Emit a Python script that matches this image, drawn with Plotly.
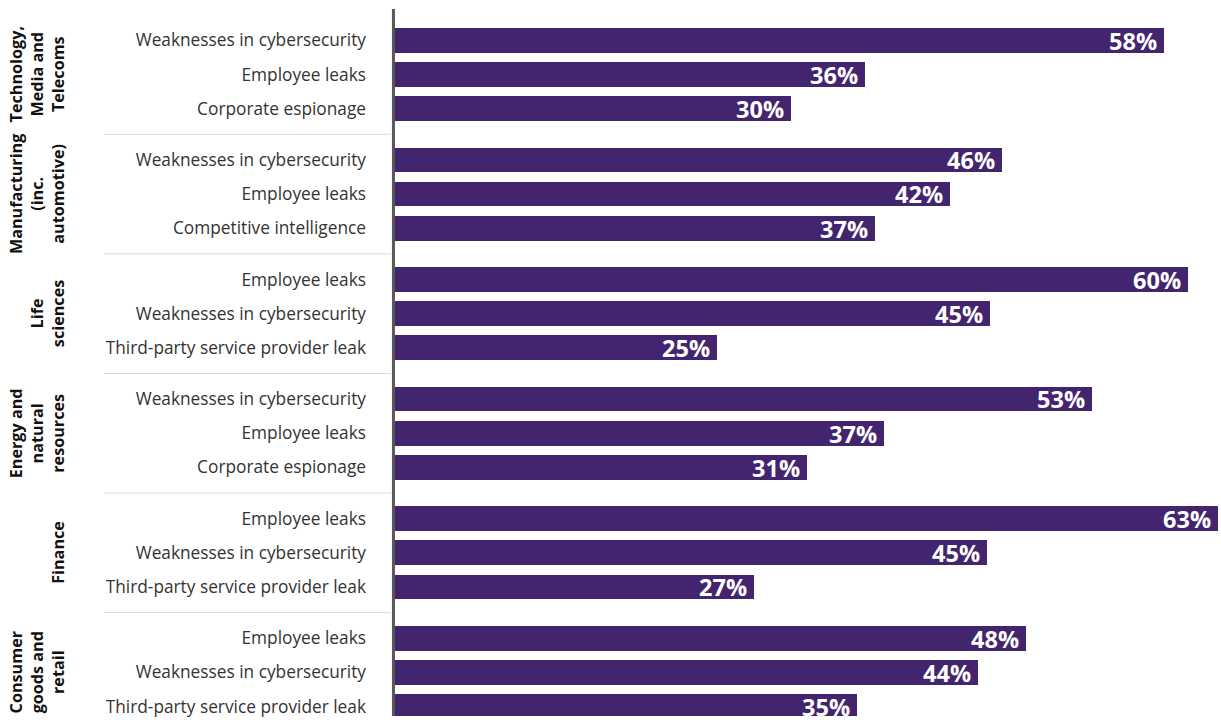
import plotly.graph_objects as go

# ---- data ----
groups = [
    "Technology,<br>Media and<br>Telecoms",
    "Manufacturing<br>(inc.<br>automotive)",
    "Life<br>sciences",
    "Energy and<br>natural<br>resources",
    "Finance",
    "Consumer<br>goods and<br>retail",
]
categories = [
    ["Weaknesses in cybersecurity", "Employee leaks", "Corporate espionage"],
    ["Weaknesses in cybersecurity", "Employee leaks", "Competitive intelligence"],
    ["Employee leaks", "Weaknesses in cybersecurity", "Third-party service provider leak"],
    ["Weaknesses in cybersecurity", "Employee leaks", "Corporate espionage"],
    ["Employee leaks", "Weaknesses in cybersecurity", "Third-party service provider leak"],
    ["Employee leaks", "Weaknesses in cybersecurity", "Third-party service provider leak"],
]
# bar lengths (percent)
values = [
    [58.45, 35.8, 30.2],
    [46.2, 42.3, 36.6],
    [60.3, 45.3, 24.6],
    [53.0, 37.3, 31.4],
    [62.6, 45.1, 27.4],
    [48.0, 44.4, 35.2],
]
# printed labels
labels = [
    [58, 36, 30],
    [46, 42, 37],
    [60, 45, 25],
    [53, 37, 31],
    [63, 45, 27],
    [48, 44, 35],
]

BAR = "#43246F"
FONT = "Open Sans"

ypos, xs, ticks, texts = [], [], [], []
for g in range(len(groups)):
    for i in range(3):
        ypos.append(3.5 * g + i)
        xs.append(values[g][i])
        ticks.append(categories[g][i])
        texts.append(f"{labels[g][i]}%\u2009")

fig = go.Figure()
fig.add_trace(go.Bar(
    x=xs, y=ypos, orientation="h", width=0.723,
    marker=dict(color=BAR, line=dict(width=0)),
    text=texts, textposition="inside", insidetextanchor="end",
    constraintext="none", cliponaxis=False,
    textfont=dict(color="white", size=23.5, family=FONT, weight="bold"),
    hoverinfo="skip",
))

YR = [19.775, -0.916]
XR = [-0.909, 62.80]

def ypaper(v):
    return (YR[0] - v) / (YR[0] - YR[1])

shapes = []
# separators between groups
for g in range(len(groups) - 1):
    yv = 3.5 * g + 2.75
    shapes.append(dict(type="line", xref="paper", yref="paper",
                       x0=-0.328, x1=0.013, y0=ypaper(yv), y1=ypaper(yv),
                       line=dict(color="#d9d9d9", width=1)))
# vertical axis line
shapes.append(dict(type="line", xref="x", yref="paper", x0=0.11, x1=0.11,
                   y0=0, y1=1, line=dict(color="#595959", width=3), layer="above"))

annotations = []
for g, name in enumerate(groups):
    annotations.append(dict(
        text=name, xref="paper", yref="y", x=(70 - 380) / 841, y=3.5 * g + 1,
        xanchor="right", yanchor="middle", textangle=-90, showarrow=False,
        align="center", borderpad=0,
        font=dict(family=FONT, size=16.2, color="#111111", weight="bold"),
    ))

fig.update_layout(
    width=1221, height=720,
    margin=dict(l=380, r=0, t=9, b=4),
    paper_bgcolor="white", plot_bgcolor="white",
    showlegend=False,
    xaxis=dict(range=XR, visible=False, fixedrange=True),
    yaxis=dict(range=YR, tickvals=ypos, ticktext=ticks, showgrid=False,
               zeroline=False, showline=False, ticks="", ticklabelstandoff=13,
               tickfont=dict(family=FONT, size=17.3, color="#333333"),
               fixedrange=True),
    shapes=shapes, annotations=annotations,
    bargap=0,
)

fig.write_html("out.html", config={"displayModeBar": False})
